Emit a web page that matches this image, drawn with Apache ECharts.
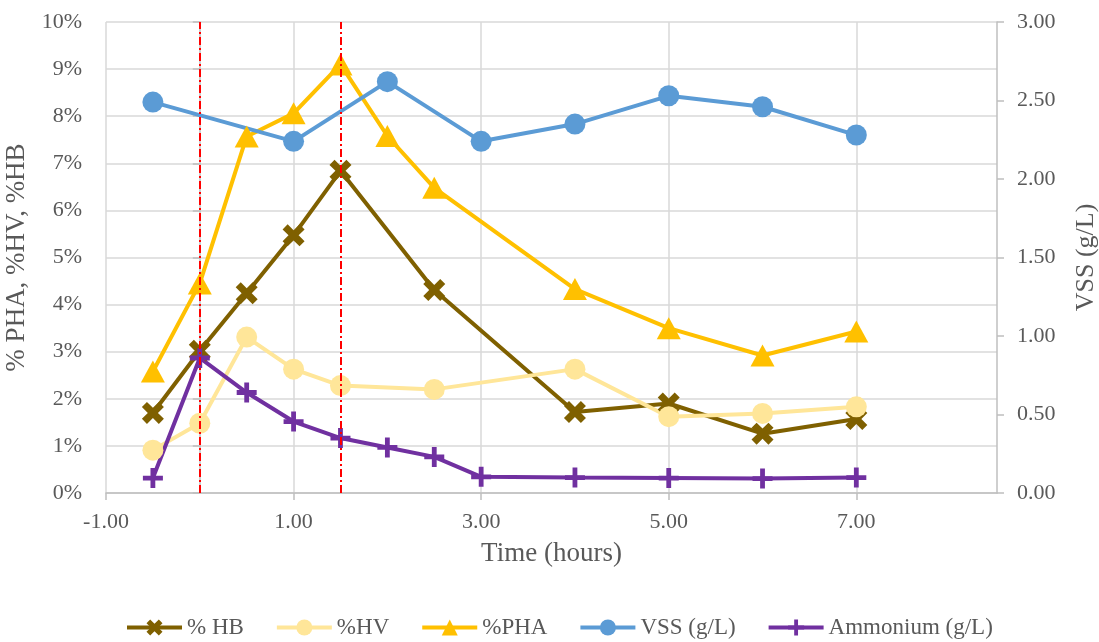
<!DOCTYPE html>
<html>
<head>
<meta charset="utf-8">
<script src="https://cdn.jsdelivr.net/npm/echarts@6/dist/echarts.min.js"></script>
<style>
  html, body { margin: 0; padding: 0; background: #fff; overflow: hidden; }
  #chart { width: 1099px; height: 642px; }
</style>
</head>
<body>
<div id="chart"></div>
<script>
// Sampling times (hours)
const timePct = [-0.5, 0, 0.5, 1, 1.5, 2.5, 4, 5, 6, 7];           // HB / HV
const timePha = [-0.5, 0, 0.5, 1, 1.5, 2, 2.5, 4, 5, 6, 7];        // PHA
const timeVss = [-0.5, 1, 2, 3, 4, 5, 6, 7];                        // VSS
const timeNh4 = [-0.5, 0, 0.5, 1, 1.5, 2, 2.5, 3, 4, 5, 6, 7];     // Ammonium

// Polymer content (% of biomass)
const hb  = [1.70, 3.02, 4.24, 5.47, 6.84, 4.31, 1.72, 1.90, 1.26, 1.57];
const hv  = [0.91, 1.48, 3.31, 2.63, 2.28, 2.20, 2.63, 1.62, 1.69, 1.83];
const pha = [2.58, 4.45, 7.57, 8.06, 9.10, 7.58, 6.48, 4.33, 3.50, 2.92, 3.43];

// Concentrations (g/L)
const vss = [2.49, 2.24, 2.62, 2.24, 2.35, 2.53, 2.46, 2.28];
const ammonium = [0.095, 0.86, 0.64, 0.455, 0.35, 0.29, 0.23, 0.103, 0.098, 0.095, 0.092, 0.098];

// Phase boundaries (hours)
const phaseMarks = [0, 1.5];

// Axis ticks
const xTicks = [-1, 1, 3, 5, 7];

const pair = (xs, ys) => xs.map((x, i) => [x, ys[i]]);

const FONT = '"Liberation Serif", "Times New Roman", serif';
const TXT = '#595959';
const AXIS = '#BFBFBF';
const GRID = '#D9D9D9';

const X_SYMBOL = 'path://M2.3,0 L5,2.7 L7.7,0 L10,2.3 L7.3,5 L10,7.7 L7.7,10 L5,7.3 L2.3,10 L0,7.7 L2.7,5 L0,2.3 Z';
const PLUS_SYMBOL = 'path://M3.8,0 H6.2 V3.8 H10 V6.2 H6.2 V10 H3.8 V6.2 H0 V3.8 H3.8 Z';

const chart = echarts.init(document.getElementById('chart'), null, { renderer: 'canvas' });

chart.setOption({
  animation: false,
  backgroundColor: '#fff',
  textStyle: { fontFamily: FONT },
  grid: { left: 106, right: 102, top: 22, bottom: 149, containLabel: false, outerBoundsMode: 'none' },
  legend: {
    left: 125,
    top: 616,
    padding: 0,
    itemWidth: 55,
    itemHeight: 20,
    itemGap: 31,
    lineStyle: { width: 4 },
    textStyle: { fontFamily: FONT, fontSize: 23, color: TXT },
    data: ['% HB', '%HV', '%PHA', 'VSS (g/L)', 'Ammonium (g/L)']
  },
  xAxis: {
    type: 'value',
    min: -1,
    max: 8.5,
    interval: 2,
    name: 'Time (hours)',
    nameLocation: 'middle',
    nameGap: 47,
    nameTextStyle: { fontFamily: FONT, fontSize: 27, color: TXT },
    axisLine: { show: true, lineStyle: { color: AXIS, width: 1.5 } },
    axisTick: { show: true, length: 7, customValues: xTicks, lineStyle: { color: AXIS, width: 1.5 } },
    axisLabel: {
      customValues: xTicks,
      margin: 18,
      fontFamily: FONT, fontSize: 22, color: TXT,
      formatter: v => v.toFixed(2)
    },
    splitLine: { show: true, lineStyle: { color: GRID, width: 1.5 } }
  },
  yAxis: [
    {
      type: 'value',
      min: 0, max: 10, interval: 1,
      position: 'left',
      name: '% PHA, %HV, %HB',
      nameLocation: 'middle',
      nameGap: 68,
      nameTextStyle: { fontFamily: FONT, fontSize: 27, color: TXT },
      axisLine: { show: true, lineStyle: { color: AXIS, width: 1.5 } },
      axisTick: { show: true, length: 7, lineStyle: { color: AXIS, width: 1.5 } },
      axisLabel: { margin: 24, fontFamily: FONT, fontSize: 22, color: TXT, formatter: '{value}%' },
      splitLine: { show: true, lineStyle: { color: GRID, width: 1.5 } }
    },
    {
      type: 'value',
      min: 0, max: 3, interval: 0.5,
      position: 'right',
      name: 'VSS (g/L)',
      nameLocation: 'middle',
      nameGap: 76,
      nameTextStyle: { fontFamily: FONT, fontSize: 26, color: TXT },
      axisLine: { show: true, lineStyle: { color: AXIS, width: 1.5 } },
      axisTick: { show: true, length: 7, lineStyle: { color: AXIS, width: 1.5 } },
      axisLabel: { margin: 20, fontFamily: FONT, fontSize: 22, color: TXT, formatter: v => v.toFixed(2) },
      splitLine: { show: false }
    }
  ],
  series: [
    {
      // phase boundary markers
      type: 'line',
      name: 'phases',
      data: [],
      z: 1,
      silent: true,
      markLine: {
        silent: true,
        symbol: ['none', 'none'],
        label: { show: false },
        lineStyle: { color: '#FF0000', width: 2, type: [8, 3, 2, 3] },
        data: phaseMarks.map(x => ({ xAxis: x }))
      }
    },
    {
      name: '% HB',
      type: 'line',
      yAxisIndex: 0,
      data: pair(timePct, hb),
      symbol: X_SYMBOL,
      symbolSize: 22,
      z: 3,
      lineStyle: { color: '#7F6000', width: 4 },
      itemStyle: { color: '#7F6000' }
    },
    {
      name: '%HV',
      type: 'line',
      yAxisIndex: 0,
      data: pair(timePct, hv),
      symbol: 'circle',
      symbolSize: 21,
      z: 3,
      lineStyle: { color: '#FFE699', width: 4 },
      itemStyle: { color: '#FFE699' }
    },
    {
      name: '%PHA',
      type: 'line',
      yAxisIndex: 0,
      data: pair(timePha, pha),
      symbol: 'triangle',
      symbolSize: [24, 22],
      z: 3,
      lineStyle: { color: '#FFC000', width: 4 },
      itemStyle: { color: '#FFC000' }
    },
    {
      name: 'VSS (g/L)',
      type: 'line',
      yAxisIndex: 1,
      data: pair(timeVss, vss),
      symbol: 'circle',
      symbolSize: 21,
      z: 3,
      lineStyle: { color: '#5B9BD5', width: 4 },
      itemStyle: { color: '#5B9BD5' }
    },
    {
      name: 'Ammonium (g/L)',
      type: 'line',
      yAxisIndex: 1,
      data: pair(timeNh4, ammonium),
      symbol: PLUS_SYMBOL,
      symbolSize: 20,
      z: 3,
      lineStyle: { color: '#7030A0', width: 4 },
      itemStyle: { color: '#7030A0' }
    }
  ]
});
</script>
</body>
</html>
